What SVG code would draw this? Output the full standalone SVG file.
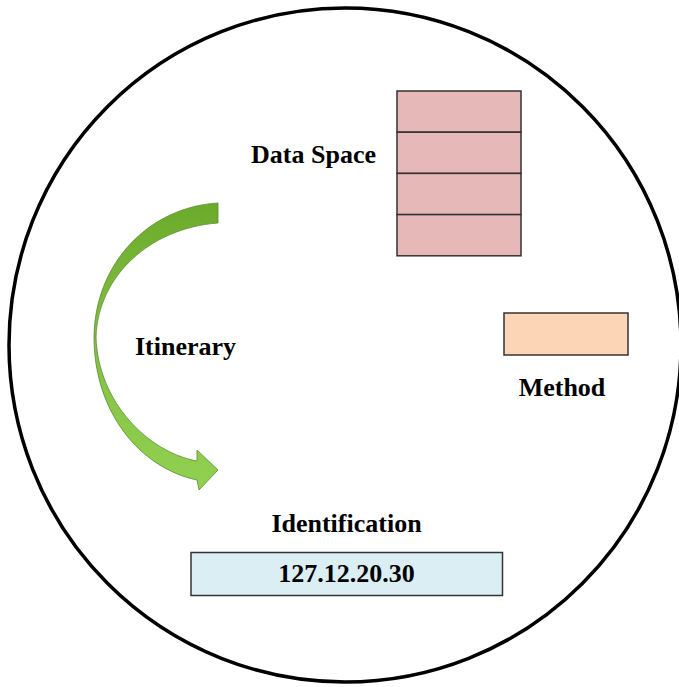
<svg xmlns="http://www.w3.org/2000/svg" width="679" height="687" viewBox="0 0 679 687">
  <defs>
    <linearGradient id="arrowFill" x1="0" y1="0" x2="0" y2="1">
      <stop offset="0" stop-color="#6cab2a"/>
      <stop offset="0.5" stop-color="#82c142"/>
      <stop offset="1" stop-color="#92d050"/>
    </linearGradient>
  </defs>
  <style>
    .label { font-family: "Liberation Serif", "Times New Roman", serif; font-weight: bold; font-size: 26px; fill: #000; text-anchor: middle; }
    .box { stroke: #333; stroke-width: 1.5; }
  </style>

  <rect width="679" height="687" fill="#fff"/>

  <!-- agent boundary -->
  <ellipse id="agent" cx="345" cy="345" rx="336" ry="337" fill="none" stroke="#000" stroke-width="3.5"/>

  <!-- data space: stacked cells -->
  <g id="data-space">
    <rect class="box" x="397" y="91" width="124" height="41.2" fill="#e6b9b8"/>
    <rect class="box" x="397" y="132.2" width="124" height="41.2" fill="#e6b9b8"/>
    <rect class="box" x="397" y="173.4" width="124" height="41.2" fill="#e6b9b8"/>
    <rect class="box" x="397" y="214.6" width="124" height="41.2" fill="#e6b9b8"/>
    <text class="label" x="313.5" y="163">Data Space</text>
  </g>

  <!-- itinerary: curved arrow -->
  <g id="itinerary">
    <path d="M 218,203 C 150,207 95,262 94,337 C 94,412 140,468 197,480 L 199,490 L 218,470 L 197,450 L 197,461 C 148,452 98,402 96,337 C 98,276 150,228 218,223 Z"
          fill="url(#arrowFill)" stroke="#5d8a36" stroke-width="0.8"/>
    <text class="label" x="185.5" y="355">Itinerary</text>
  </g>

  <!-- method -->
  <g id="method">
    <rect class="box" x="504" y="313" width="124" height="42" fill="#fbd5b5"/>
    <text class="label" x="562" y="396">Method</text>
  </g>

  <!-- identification -->
  <g id="identification">
    <text class="label" x="346.5" y="532">Identification</text>
    <rect class="box" x="191" y="552.5" width="311.5" height="43" fill="#dbeef4"/>
    <text class="label" x="346.5" y="582">127.12.20.30</text>
  </g>
</svg>
